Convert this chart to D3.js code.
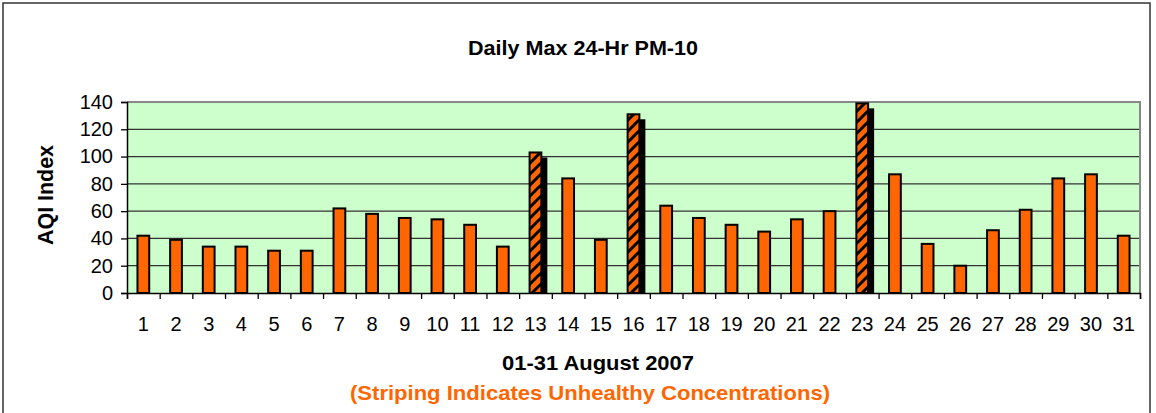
<!doctype html>
<html>
<head>
<script src="https://d3js.org/d3.v7.min.js"></script>
<style>
  body { margin: 0; background: #fff; }
  text { font-family: "Liberation Sans", Arial, sans-serif; }
</style>
</head>
<body>
<svg width="1156" height="413"></svg>
<script>
// data
var days = d3.range(1, 32).map(String);
var aqi = [42, 39, 34, 34, 31, 31, 62, 58, 55, 54, 50, 34, 103, 84, 39, 131,
           64, 55, 50, 45, 54, 60, 139, 87, 36, 20, 46, 61, 84, 87, 42];
var unhealthy = ["13", "16", "23"];
var yTicks = [0, 20, 40, 60, 80, 100, 120, 140];

var svg = d3.select("svg");
var pLeft = 127, pRight = 1140, pTop = 102, pBottom = 293;

// outer frame
svg.append("rect")
  .attr("x", 3).attr("y", 3).attr("width", 1147).attr("height", 420)
  .attr("fill", "none").attr("stroke", "#333").attr("stroke-width", 1.5);

var x = d3.scaleBand().domain(days).range([pLeft, pRight])
  .paddingInner(0.64).paddingOuter(0.32);
var xEdge = d3.scaleLinear().domain([0, 31]).range([pLeft, pRight]);
var y = d3.scaleLinear().domain([0, 140]).range([pBottom, pTop]);

// stripe pattern
var defs = svg.append("defs");
var pat = defs.append("pattern")
  .attr("id", "stripe")
  .attr("patternUnits", "userSpaceOnUse")
  .attr("width", 11).attr("height", 11);
pat.append("rect").attr("width", 11).attr("height", 11).attr("fill", "#ff6600");
pat.append("path")
  .attr("d", "M0,11 L11,0 M-3,3 L3,-3 M8,14 L14,8")
  .attr("stroke", "#000").attr("stroke-width", 3);

// plot area
svg.append("rect")
  .attr("x", pLeft).attr("y", pTop)
  .attr("width", pRight - pLeft).attr("height", pBottom - pTop)
  .attr("fill", "#ccffcc");

// gridlines
svg.append("g").selectAll("line")
  .data(yTicks.filter(d => d > 0 && d < 140))
  .enter().append("line")
  .attr("x1", pLeft).attr("x2", pRight)
  .attr("y1", d => y(d)).attr("y2", d => y(d))
  .attr("stroke", "#333").attr("stroke-width", 1.3);

// top & right border
svg.append("path")
  .attr("d", "M" + pLeft + "," + pTop + "H" + pRight + "V" + pBottom)
  .attr("fill", "none").attr("stroke", "#888").attr("stroke-width", 2);

// shadows for unhealthy bars
svg.append("g").selectAll("rect")
  .data(days.filter(d => unhealthy.includes(d)))
  .enter().append("rect")
  .attr("x", d => x(d) + 6)
  .attr("y", d => y(aqi[+d - 1]) + 5)
  .attr("width", x.bandwidth())
  .attr("height", d => pBottom - y(aqi[+d - 1]) - 5)
  .attr("fill", "#000");

// bars
svg.append("g").selectAll("rect")
  .data(days)
  .enter().append("rect")
  .attr("x", d => x(d))
  .attr("y", d => y(aqi[+d - 1]))
  .attr("width", x.bandwidth())
  .attr("height", d => pBottom - y(aqi[+d - 1]))
  .attr("fill", d => unhealthy.includes(d) ? "url(#stripe)" : "#ff6600")
  .attr("stroke", "#000").attr("stroke-width", 2);

// y axis
var yAxis = svg.append("g")
  .attr("transform", "translate(" + pLeft + ",0)")
  .call(d3.axisLeft(y).tickValues(yTicks).tickSize(6).tickPadding(8));
yAxis.select(".domain").attr("stroke", "#000").attr("stroke-width", 1.5);
yAxis.selectAll(".tick line").attr("stroke", "#000").attr("stroke-width", 1.3);
yAxis.selectAll("text")
  .style("font-family", "'Liberation Sans', Arial, sans-serif")
  .style("font-size", "20px").attr("fill", "#000");

// x axis ticks at band edges
var xAxis = svg.append("g")
  .attr("transform", "translate(0," + pBottom + ")")
  .call(d3.axisBottom(xEdge).tickValues(d3.range(0, 32)).tickSize(6).tickFormat(""));
xAxis.select(".domain").attr("stroke", "#000").attr("stroke-width", 1.5);
xAxis.selectAll(".tick line").attr("stroke", "#000").attr("stroke-width", 1.3);

// x tick labels
svg.append("g").selectAll("text")
  .data(days)
  .enter().append("text")
  .attr("x", d => x(d) + x.bandwidth() / 2)
  .attr("y", 331)
  .attr("text-anchor", "middle")
  .style("font-size", "20px")
  .text(d => d);

// titles
svg.append("text")
  .attr("x", 583).attr("y", 55)
  .attr("text-anchor", "middle")
  .attr("textLength", 230).attr("lengthAdjust", "spacingAndGlyphs")
  .style("font-size", "20px").style("font-weight", "bold")
  .text("Daily Max 24-Hr PM-10");

svg.append("text")
  .attr("x", 598).attr("y", 370)
  .attr("text-anchor", "middle")
  .attr("textLength", 192).attr("lengthAdjust", "spacingAndGlyphs")
  .style("font-size", "21px").style("font-weight", "bold")
  .text("01-31 August 2007");

svg.append("text")
  .attr("x", 590).attr("y", 400)
  .attr("text-anchor", "middle")
  .attr("textLength", 480).attr("lengthAdjust", "spacingAndGlyphs")
  .style("font-size", "21px").style("font-weight", "bold")
  .attr("fill", "#ff6600")
  .text("(Striping Indicates Unhealthy Concentrations)");

svg.append("text")
  .attr("transform", "translate(53,195) rotate(-90)")
  .attr("text-anchor", "middle")
  .attr("textLength", 100).attr("lengthAdjust", "spacingAndGlyphs")
  .style("font-size", "22px").style("font-weight", "bold")
  .text("AQI Index");
</script>
</body>
</html>
